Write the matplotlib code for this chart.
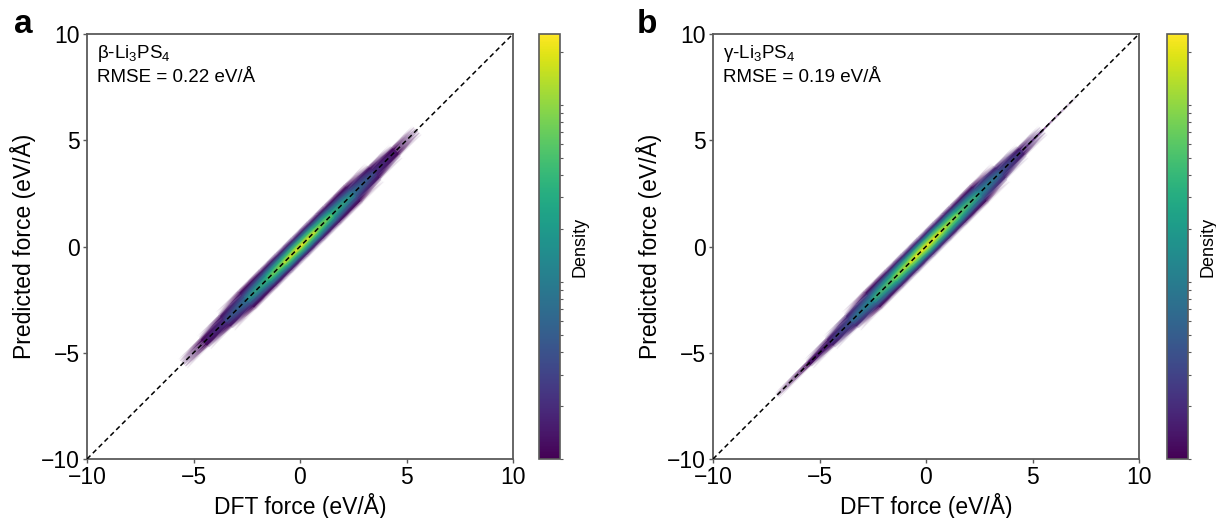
import numpy as np
import matplotlib
matplotlib.use("Agg")
import matplotlib.pyplot as plt
from matplotlib.colors import LogNorm
from matplotlib.ticker import NullFormatter, LogLocator

plt.rcParams['font.family'] = ['Liberation Sans', 'DejaVu Sans']
plt.rcParams['mathtext.default'] = 'regular'

# ---------------- data ----------------
axis_limits = [-10, 10]
tick_values = [-10, -5, 0, 5, 10]

# position along the parity line, (DFT + predicted)/2, eV/Å
diag_pos = [-9, -7, -5.5, -4.5, -3.5, -2.5, -1.5, -0.75, 0, 0.75, 1.5, 2.5, 3.5, 4.5, 5.5, 7, 9]
# residual, predicted - DFT, eV/Å
residual = [-1.2, -0.9, -0.65, -0.45, -0.25, -0.1, 0, 0.1, 0.25, 0.45, 0.65, 0.9, 1.2]

# log10 point density (rows: diag_pos, cols: residual)
log_density_beta = [
    [-1.00, -1.00, -1.00, -1.00, -1.00, -1.00, -1.00, -1.00, -1.00, -1.00, -1.00, -1.00, -1.00],
    [-1.00, -1.00, -1.00, -0.90, -0.75, -0.65, -0.60, -0.65, -0.75, -0.90, -1.00, -1.00, -1.00],
    [-1.00, -1.00, -0.75, -0.55, -0.40, -0.32, -0.28, -0.32, -0.40, -0.55, -0.75, -1.00, -1.00],
    [-1.00, -0.75, -0.45, -0.15, 0.02, 0.08, 0.10, 0.08, 0.02, -0.15, -0.45, -0.75, -1.00],
    [-1.00, -0.55, -0.20, 0.08, 0.25, 0.37, 0.42, 0.37, 0.25, 0.08, -0.20, -0.55, -1.00],
    [-1.00, -0.35, 0.02, 0.36, 0.72, 0.92, 1.00, 0.92, 0.72, 0.36, 0.02, -0.35, -1.00],
    [-1.00, -0.22, 0.12, 0.68, 1.20, 1.55, 1.65, 1.55, 1.20, 0.68, 0.12, -0.22, -1.00],
    [-1.00, -0.18, 0.17, 0.86, 1.55, 1.95, 2.10, 1.95, 1.55, 0.86, 0.17, -0.18, -1.00],
    [-1.00, -0.15, 0.20, 0.95, 1.70, 2.15, 2.40, 2.15, 1.70, 0.95, 0.20, -0.15, -1.00],
    [-1.00, -0.18, 0.17, 0.86, 1.55, 1.95, 2.10, 1.95, 1.55, 0.86, 0.17, -0.18, -1.00],
    [-1.00, -0.22, 0.12, 0.68, 1.20, 1.55, 1.65, 1.55, 1.20, 0.68, 0.12, -0.22, -1.00],
    [-1.00, -0.35, 0.02, 0.36, 0.72, 0.92, 1.00, 0.92, 0.72, 0.36, 0.02, -0.35, -1.00],
    [-1.00, -0.55, -0.20, 0.08, 0.25, 0.37, 0.42, 0.37, 0.25, 0.08, -0.20, -0.55, -1.00],
    [-1.00, -0.75, -0.45, -0.15, 0.02, 0.08, 0.10, 0.08, 0.02, -0.15, -0.45, -0.75, -1.00],
    [-1.00, -1.00, -0.75, -0.55, -0.40, -0.32, -0.28, -0.32, -0.40, -0.55, -0.75, -1.00, -1.00],
    [-1.00, -1.00, -1.00, -0.90, -0.75, -0.65, -0.60, -0.65, -0.75, -0.90, -1.00, -1.00, -1.00],
    [-1.00, -1.00, -1.00, -1.00, -1.00, -1.00, -1.00, -1.00, -1.00, -1.00, -1.00, -1.00, -1.00],
]

log_density_gamma = [
    [-1.00, -1.00, -1.00, -1.00, -1.00, -1.00, -1.00, -1.00, -1.00, -1.00, -1.00, -1.00, -1.00],
    [-1.00, -1.00, -0.90, -0.72, -0.55, -0.45, -0.40, -0.45, -0.55, -0.72, -0.90, -1.00, -1.00],
    [-1.00, -0.80, -0.50, -0.25, -0.05, 0.04, 0.08, 0.04, -0.05, -0.25, -0.50, -0.80, -1.00],
    [-1.00, -0.65, -0.30, -0.02, 0.12, 0.22, 0.27, 0.22, 0.12, -0.02, -0.30, -0.65, -1.00],
    [-1.00, -0.45, -0.10, 0.20, 0.46, 0.62, 0.70, 0.62, 0.46, 0.20, -0.10, -0.45, -1.00],
    [-1.00, -0.30, 0.05, 0.52, 0.92, 1.15, 1.25, 1.15, 0.92, 0.52, 0.05, -0.30, -1.00],
    [-1.00, -0.20, 0.16, 0.86, 1.45, 1.78, 1.90, 1.78, 1.45, 0.86, 0.16, -0.20, -1.00],
    [-1.00, -0.16, 0.22, 1.00, 1.72, 2.05, 2.25, 2.05, 1.72, 1.00, 0.22, -0.16, -1.00],
    [-1.00, -0.14, 0.25, 1.10, 1.85, 2.20, 2.40, 2.20, 1.85, 1.10, 0.25, -0.14, -1.00],
    [-1.00, -0.16, 0.22, 1.00, 1.72, 2.05, 2.25, 2.05, 1.72, 1.00, 0.22, -0.16, -1.00],
    [-1.00, -0.20, 0.16, 0.86, 1.45, 1.78, 1.90, 1.78, 1.45, 0.86, 0.16, -0.20, -1.00],
    [-1.00, -0.30, 0.05, 0.52, 0.92, 1.15, 1.25, 1.15, 0.92, 0.52, 0.05, -0.30, -1.00],
    [-1.00, -0.45, -0.10, 0.20, 0.46, 0.62, 0.70, 0.62, 0.46, 0.20, -0.10, -0.45, -1.00],
    [-1.00, -0.65, -0.30, -0.02, 0.12, 0.22, 0.27, 0.22, 0.12, -0.02, -0.30, -0.65, -1.00],
    [-1.00, -0.85, -0.55, -0.30, -0.10, -0.02, 0.02, -0.02, -0.10, -0.30, -0.55, -0.85, -1.00],
    [-1.00, -1.00, -0.90, -0.72, -0.55, -0.45, -0.40, -0.45, -0.55, -0.72, -0.90, -1.00, -1.00],
    [-1.00, -1.00, -1.00, -1.00, -1.00, -1.00, -1.00, -1.00, -1.00, -1.00, -1.00, -1.00, -1.00],
]

panel_letters = ['a', 'b']
phase_labels = [r'β-Li$_3$PS$_4$', r'γ-Li$_3$PS$_4$']
rmse_labels = ['RMSE = 0.22 eV/Å', 'RMSE = 0.19 eV/Å']
density_max_log = 2.4

# ---------------- figure ----------------
W, H = 1216, 518
fig = plt.figure(figsize=(W / 100, H / 100), dpi=100)

spine_col = '#5a5a5a'
ax_w, ax_h = 426 / W, 425 / H
ax_bottom = (H - 459) / H
ax_lefts = [87 / W, 713 / W]
cb_lefts = [539 / W, 1167 / W]
cb_w = 21 / W
letter_x = [14 / W, 637 / W]

cmap = plt.get_cmap('viridis').copy()
cmap.set_under('white')
norm = LogNorm(vmin=1, vmax=10 ** density_max_log)

T, R = np.meshgrid(diag_pos, residual, indexing='ij')
X = T - R / 2
Y = T + R / 2

for i, dens in enumerate([log_density_beta, log_density_gamma]):
    ax = fig.add_axes([ax_lefts[i], ax_bottom, ax_w, ax_h])
    C = 10 ** np.array(dens)
    mesh = ax.pcolormesh(X, Y, C, shading='gouraud', cmap=cmap, norm=norm,
                         rasterized=True)
    ax.plot(axis_limits, axis_limits, color='black', lw=1.1,
            linestyle=(0, (3.2, 2.2)), zorder=3)
    ax.set_xlim(axis_limits)
    ax.set_ylim(axis_limits)
    ax.set_xticks(tick_values)
    ax.set_yticks(tick_values)
    ax.tick_params(direction='out', length=3, width=1, color=spine_col,
                   labelsize=16.5, pad=2)
    for s in ax.spines.values():
        s.set_color(spine_col)
        s.set_linewidth(1.3)
    ax.set_xlabel('DFT force (eV/Å)', fontsize=16.5, labelpad=3)
    ax.set_ylabel('Predicted force (eV/Å)', fontsize=16.5, labelpad=4)

    ax.text(0.023, 0.9435, phase_labels[i], transform=ax.transAxes,
            fontsize=13.5, va='baseline', ha='left')
    ax.text(0.023, 0.887, rmse_labels[i], transform=ax.transAxes,
            fontsize=13.5, va='baseline', ha='left')

    fig.text(letter_x[i], (H - 33) / H, panel_letters[i], fontsize=24,
             fontweight='bold', va='baseline', ha='left')

    cax = fig.add_axes([cb_lefts[i], ax_bottom, cb_w, ax_h])
    cb = fig.colorbar(mesh, cax=cax)
    cb.outline.set_edgecolor(spine_col)
    cb.outline.set_linewidth(1.2)
    cax.yaxis.set_major_locator(LogLocator(base=10))
    cax.yaxis.set_minor_locator(LogLocator(base=10, subs=np.arange(2, 10)))
    cax.yaxis.set_major_formatter(NullFormatter())
    cax.yaxis.set_minor_formatter(NullFormatter())
    cax.tick_params(which='both', length=2, width=0.8, color=spine_col,
                    direction='out')
    cb.set_label('Density', fontsize=13, labelpad=3)

fig.savefig('out.png', dpi=100)
